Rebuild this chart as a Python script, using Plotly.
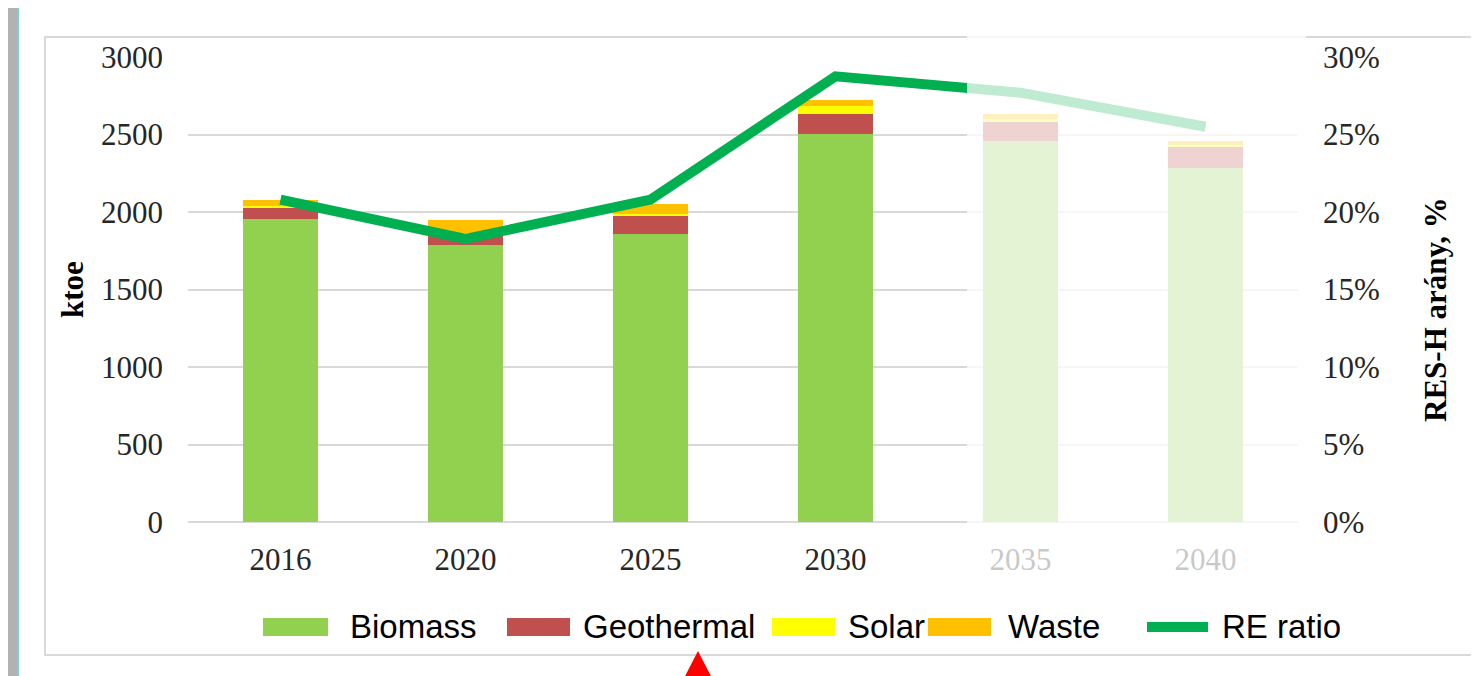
import plotly.graph_objects as go

years = ['2016', '2020', '2025', '2030', '2035', '2040']
biomass = [1955, 1787, 1855, 2505, 2455, 2285]
geothermal = [77, 70, 123, 127, 128, 135]
solar = [8, 10, 10, 54, 20, 15]
waste = [39, 80, 64, 37, 27, 25]
re_ratio = [0.208, 0.1826, 0.208, 0.2875, 0.277, 0.255]

colors = {'Biomass': '#92d050', 'Geothermal': '#c0504d', 'Solar': '#ffff00',
          'Waste': '#ffc000', 'RE ratio': '#00b050'}

# the page body adds an 8px offset, so work in page pixels and subtract it
OFF = 8
W, H = 1479 - OFF, 676 - OFF
L, R, T, B = 188 - OFF, 181, 57 - OFF, 154
PW, PH = W - L - R, H - T - B


def px(x):
    # page pixel -> paper x
    return (x - OFF - L) / PW


def py(y):
    # page pixel -> paper y
    return (H - B - (y - OFF)) / PH


fig = go.Figure()
for name, vals in [('Biomass', biomass), ('Geothermal', geothermal),
                   ('Solar', solar), ('Waste', waste)]:
    fig.add_trace(go.Bar(x=years, y=vals, name=name, marker_color=colors[name],
                         marker_line_width=0, width=0.405, showlegend=False))

fig.add_trace(go.Scatter(x=years, y=re_ratio, name='RE ratio', yaxis='y2', mode='lines',
                         line=dict(color=colors['RE ratio'], width=10), showlegend=False))

tickfont = dict(family='Liberation Serif', size=31, color='#262626')

P = dict(xref='paper', yref='paper')
shapes = []
# outer grey edges and teal border
shapes.append(dict(type='rect', x0=px(-10), x1=px(17), y0=py(-10), y1=py(700), fillcolor='#b2b2b2', line_width=0, **P))
shapes.append(dict(type='rect', x0=px(-10), x1=px(1500), y0=py(-10), y1=py(6), fillcolor='#bdbdbd', line_width=0, **P))
shapes.append(dict(type='line', x0=px(18), x1=px(18), y0=py(6.5), y1=py(690), line=dict(color='#78d2d2', width=2), **P))
shapes.append(dict(type='line', x0=px(18), x1=px(1500), y0=py(6.5), y1=py(6.5), line=dict(color='#78d2d2', width=2), **P))
# inner chart frame
shapes.append(dict(type='rect', x0=px(45), x1=px(1475), y0=py(37), y1=py(655),
                   line=dict(color='#d9d9d9', width=2), fillcolor='rgba(0,0,0,0)', **P))
# faded projection area
shapes.append(dict(type='rect', x0=px(967), x1=px(1306), y0=py(33), y1=py(592),
                   fillcolor='rgba(255,255,255,0.75)', line_width=0, layer='above', **P))

# manual legend
legend_items = [('Biomass', 263, 328, 350), ('Geothermal', 507, 570, 583),
                ('Solar', 772, 835, 848), ('Waste', 928, 991, 1008)]
legend_font = dict(family='Liberation Sans', size=33, color='#000')
annotations = []
for name, x0, x1, tx in legend_items:
    shapes.append(dict(type='rect', x0=px(x0), x1=px(x1), y0=py(618), y1=py(636),
                       fillcolor=colors[name], line_width=0, **P))
    annotations.append(dict(x=px(tx - 2), y=py(626), text=name, showarrow=False,
                            xanchor='left', yanchor='middle', font=legend_font, **P))
shapes.append(dict(type='line', x0=px(1147), x1=px(1208), y0=py(627), y1=py(627),
                   line=dict(color=colors['RE ratio'], width=10), **P))
annotations.append(dict(x=px(1220), y=py(626), text='RE ratio', showarrow=False,
                        xanchor='left', yanchor='middle', font=legend_font, **P))

# red pointer triangle
shapes.append(dict(type='path', path=f'M {px(698)} {py(651)} L {px(714)} {py(682)} L {px(682)} {py(682)} Z',
                   fillcolor='#ff0000', line_width=0, **P))

# axis titles
annotations.append(dict(x=px(72), y=py(290), text='<b>ktoe</b>', textangle=-90, showarrow=False,
                        xanchor='center', yanchor='middle',
                        font=dict(family='Liberation Serif', size=31, color='#000'), **P))
annotations.append(dict(x=px(1435), y=py(310), text='<b>RES-H arány, %</b>', textangle=-90,
                        showarrow=False, xanchor='center', yanchor='middle',
                        font=dict(family='Liberation Serif', size=31, color='#000'), **P))

fig.update_layout(
    width=W, height=H, barmode='stack',
    margin=dict(l=L, r=R, t=T, b=B, pad=0),
    paper_bgcolor='white', plot_bgcolor='white',
    xaxis=dict(type='category', tickfont=tickfont, showline=False, ticks='',
               ticklabelstandoff=16, range=[-0.5, 5.5]),
    yaxis=dict(range=[0, 3000], dtick=500, tickfont=tickfont, showgrid=True,
               gridcolor='#d9d9d9', gridwidth=2, zeroline=True, zerolinecolor='#d9d9d9',
               zerolinewidth=2, showline=False, ticks='', ticklabelstandoff=24),
    yaxis2=dict(range=[0, 0.30], dtick=0.05, tickformat='.0%', tickfont=tickfont,
                overlaying='y', side='right', showgrid=False, zeroline=False,
                showline=False, ticks='', ticklabelstandoff=24),
    shapes=shapes, annotations=annotations, showlegend=False,
)

fig.write_html("out.html")
